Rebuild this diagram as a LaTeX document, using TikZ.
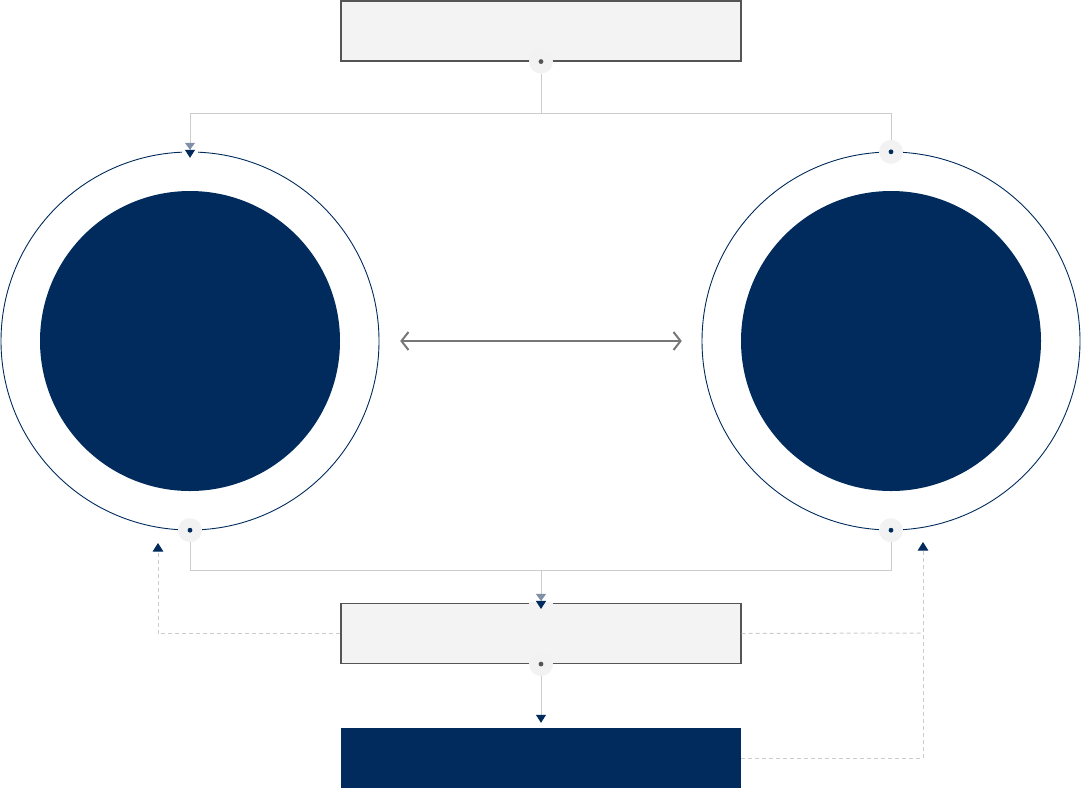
\documentclass[tikz,border=0pt]{standalone}
\usetikzlibrary{arrows.meta}
\definecolor{navy}{HTML}{002B5C}
\definecolor{navylight}{HTML}{7F90A8}
\definecolor{boxfill}{HTML}{F3F3F3}
\definecolor{boxline}{HTML}{555555}
\definecolor{connline}{HTML}{CCCCCC}
\definecolor{portbg}{HTML}{F2F2F2}
\definecolor{arrowgray}{HTML}{777777}
\tikzset{
  graybox/.style={rectangle, draw=boxline, fill=boxfill, line width=1.1pt, minimum width=400pt, minimum height=60pt, inner sep=0pt},
  navybox/.style={rectangle, fill=navy, minimum width=400pt, minimum height=60pt, inner sep=0pt},
  ring/.style={circle, minimum size=378pt, inner sep=0pt},
  ringline/.style={draw=navy, line width=0.9pt},
  core/.style={circle, fill=navy, minimum size=300pt, inner sep=0pt},
  port/.style={circle, fill=portbg, minimum size=24pt, inner sep=0pt,
    path picture={\fill[#1] (path picture bounding box.center) circle (2.4pt);}},
  port/.default=navy,
  halo/.style={circle, fill=white, minimum size=16pt, inner sep=0pt},
  conn/.style={draw=connline, line width=1pt},
  dashconn/.style={draw=connline, line width=1pt, dash pattern=on 4pt off 3pt},
  dbltip/.style={-{Triangle[color=navylight,width=10pt,length=7pt] Triangle[sep=-2pt,color=navy,width=10pt,length=8pt]}},
  onetip/.style={-{Triangle[color=navy,width=10pt,length=8pt]}},
  uptip/.style={-{Triangle[color=navy,width=10.5pt,length=8.5pt]}},
}
\begin{document}
\begin{tikzpicture}[x=1pt,y=-1pt]
\useasboundingbox (0,0) rectangle (1081,788);

% boxes
\node[graybox] (top) at (541,31) {};
\node[graybox] (mid) at (541,633.5) {};
\node[navybox] (bot) at (541,758) {};

% circles
\node[ring] (lo) at (190,341) {};
\draw[ringline] (lo.center) circle[radius=189pt];
\node[core] (li) at (190,341) {};
\node[ring] (ro) at (891,341) {};
\draw[ringline] (ro.center) circle[radius=189pt];
\node[core] (ri) at (891,341) {};

% ports
\node[port=boxline] (tp) at (top.south) {};
\node[port] (rtp) at (ro.north) {};
\node[port] (lbp) at (lo.south) {};
\node[port] (rbp) at (ro.south) {};
\node[halo] (lth) at (lo.north) {};
\fill[boxfill] (529,602) rectangle (553,604.5);
\node[port=boxline] (mbp) at (mid.south) {};

% junctions
\coordinate (jt) at (541,113);
\coordinate (jb) at (541,570);
\coordinate (la) at (158,543);
\coordinate (ra) at (923,542);
\coordinate (rm) at (923,633);

% top connectors
\draw[conn] (tp.south) -- (jt) -| (rtp.north);
\draw[conn, dbltip, shorten >=-4pt] (jt) -| (lth.center);

% bottom connectors
\draw[conn] (lbp.south) -- ++(0,28) -| (rbp.south);
\draw[conn, dbltip, shorten >=-4pt] (jb) -- (mid.north);
\draw[conn, onetip, shorten >=5pt] (mbp.south) -- (bot.north);

% dashed feedback
\draw[dashconn, uptip] (mid.west) -| (la);
\draw[dashconn] (mid.east) -- (rm);
\draw[dashconn, uptip] (bot.east) -| (ra);

% double arrow
\draw[arrowgray, line width=2pt, {Straight Barb[length=7pt,width=18pt]}-{Straight Barb[length=7pt,width=18pt]}]
  ([xshift=21pt]lo.east) -- ([xshift=-20pt]ro.west);
\end{tikzpicture}
\end{document}
